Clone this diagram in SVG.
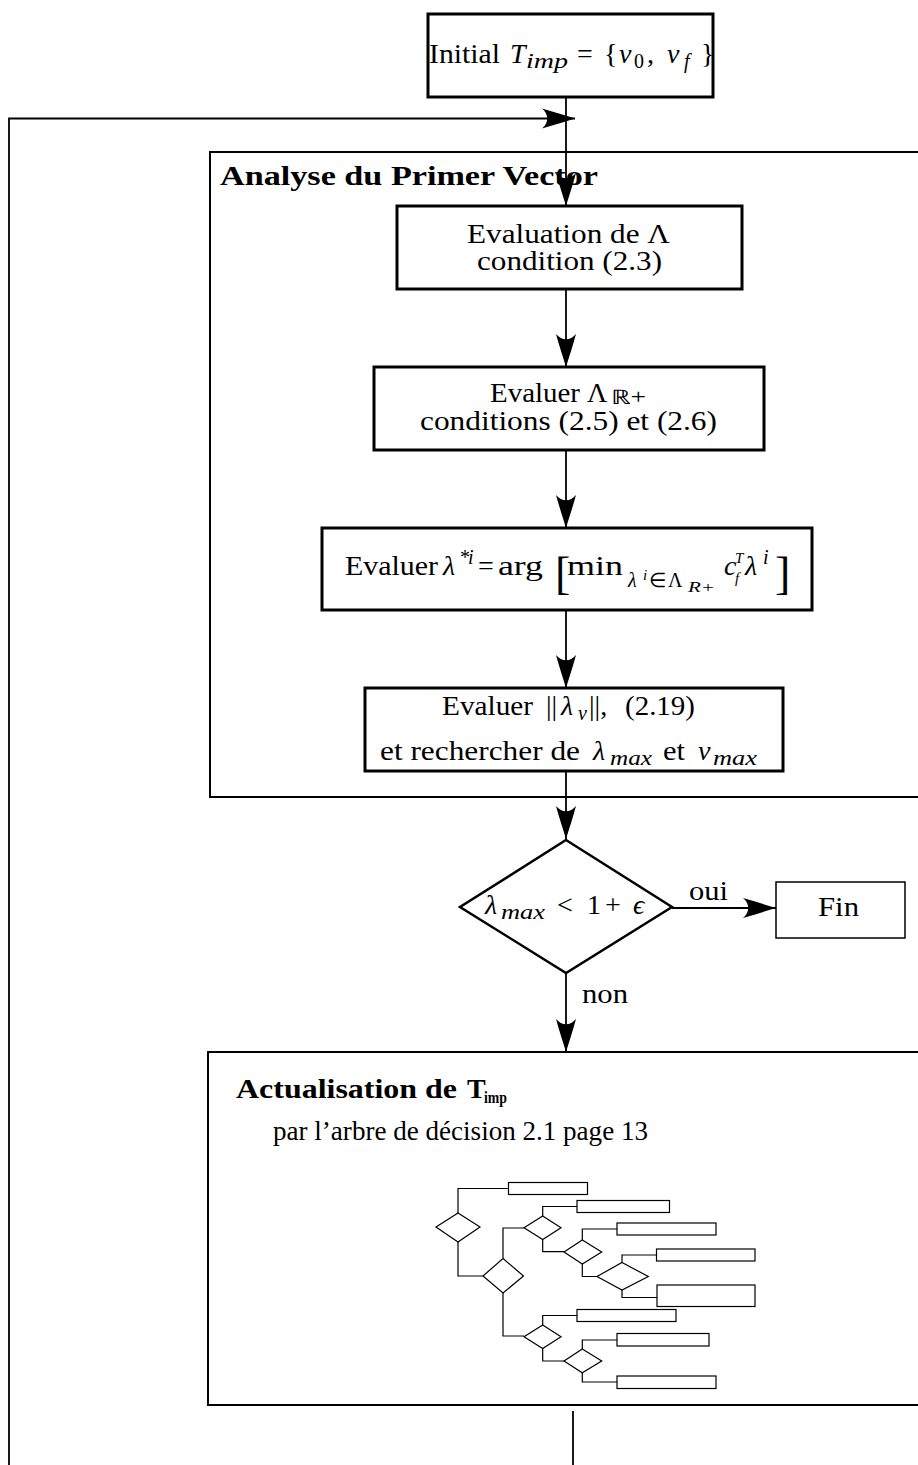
<svg xmlns="http://www.w3.org/2000/svg" width="918" height="1465" viewBox="0 0 918 1465">
<style>
.t{font-family:"Liberation Serif","Times New Roman",serif;font-size:28px;fill:#000}
.i{font-style:italic}
.s{font-size:20px}
.ss{font-size:15px}
.b{font-weight:bold}
.box{fill:#fff;stroke:#000;stroke-width:3}
.cont{fill:none;stroke:#000;stroke-width:2}
.con{fill:none;stroke:#000;stroke-width:1.8}
.mini{fill:#fff;stroke:#000;stroke-width:1.2}
.mline{fill:none;stroke:#000;stroke-width:1.2}
</style>
<defs>
<marker id="arr" markerUnits="userSpaceOnUse" viewBox="-34 -11 35 22" refX="0" refY="0" markerWidth="35" markerHeight="22" orient="auto" overflow="visible">
<path d="M0,0 C-10,-3 -22,-7 -33,-10 C-26,-4 -26,4 -33,10 C-22,7 -10,3 0,0 Z" fill="#000"/>
</marker>
</defs>

<g id="containers">
<rect class="cont" x="210" y="152" width="760" height="645"/>
<text class="t b" x="220" y="185" textLength="378" lengthAdjust="spacingAndGlyphs">Analyse du Primer Vector</text>
<rect class="cont" x="208" y="1052" width="760" height="353"/>
</g>

<g id="connectors">
<path class="con" d="M566,97 L566,206" marker-end="url(#arr)"/>
<path class="con" d="M9,1465 L9,118.5 L575,118.5" marker-end="url(#arr)"/>
<path class="con" d="M566,289 L566,367" marker-end="url(#arr)"/>
<path class="con" d="M566,450 L566,528" marker-end="url(#arr)"/>
<path class="con" d="M566,610 L566,688" marker-end="url(#arr)"/>
<path class="con" d="M566,771 L566,839" marker-end="url(#arr)"/>
<path class="con" d="M566,973 L566,1052" marker-end="url(#arr)"/>
<path class="con" d="M672,908 L776,908" marker-end="url(#arr)"/>
<path class="con" d="M573,1411 L573,1465"/>
<text class="t" x="689" y="900" textLength="39" lengthAdjust="spacingAndGlyphs">oui</text>
<text class="t" x="582" y="1003" textLength="46" lengthAdjust="spacingAndGlyphs">non</text>
</g>

<g id="init">
<rect class="box" x="428" y="14" width="285" height="83"/>
<text class="t"><tspan x="429" y="63" textLength="71" lengthAdjust="spacingAndGlyphs">Initial</tspan><tspan x="510" y="63" class="i">T</tspan><tspan x="526" y="68" class="i s" textLength="42" lengthAdjust="spacingAndGlyphs">imp</tspan><tspan x="577" y="63">=</tspan><tspan x="604" y="63">{</tspan><tspan x="619" y="63" class="i">ν</tspan><tspan x="634" y="68" class="s">0</tspan><tspan x="647" y="63">,</tspan><tspan x="667" y="63" class="i">ν</tspan><tspan x="684" y="68" class="i s">f</tspan><tspan x="701" y="63">}</tspan></text>
</g>

<g id="evaluation">
<rect class="box" x="397" y="206" width="345" height="83"/>
<text class="t" x="467" y="243" textLength="203" lengthAdjust="spacingAndGlyphs">Evaluation de Λ</text>
<text class="t" x="477" y="270" textLength="185" lengthAdjust="spacingAndGlyphs">condition (2.3)</text>
</g>

<g id="evaluer-lambda-r">
<rect class="box" x="374" y="367" width="390" height="83"/>
<text class="t"><tspan x="490" y="402" textLength="90" lengthAdjust="spacingAndGlyphs">Evaluer</tspan><tspan x="587" y="402">Λ</tspan><tspan x="611" y="404" class="s" textLength="35" lengthAdjust="spacingAndGlyphs">ℝ+</tspan></text>
<text class="t" x="420" y="430" textLength="297" lengthAdjust="spacingAndGlyphs">conditions (2.5) et (2.6)</text>
</g>

<g id="evaluer-argmin">
<rect class="box" x="322" y="528" width="490" height="82"/>
<text class="t"><tspan x="345" y="575" textLength="93" lengthAdjust="spacingAndGlyphs">Evaluer</tspan><tspan x="443" y="575" class="i">λ</tspan><tspan x="460" y="564" class="s">*</tspan><tspan x="468" y="564" class="i s">i</tspan><tspan x="478" y="575">=</tspan><tspan x="498" y="575" textLength="45" lengthAdjust="spacingAndGlyphs">arg</tspan><tspan x="567" y="575" textLength="56" lengthAdjust="spacingAndGlyphs">min</tspan><tspan x="628" y="587" class="i s">λ</tspan><tspan x="643" y="580" class="i ss">i</tspan><tspan x="649" y="587" class="s">∈</tspan><tspan x="668" y="587" class="s">Λ</tspan><tspan x="688" y="592" class="i ss" textLength="27" lengthAdjust="spacingAndGlyphs">R+</tspan><tspan x="724" y="575" class="i">c</tspan><tspan x="735" y="563" class="i ss">T</tspan><tspan x="735" y="583" class="i ss">f</tspan><tspan x="745" y="575" class="i">λ</tspan><tspan x="763" y="564" class="i s">i</tspan></text>
<text class="t" x="555" y="589" style="font-size:46px">[</text>
<text class="t" x="775" y="589" style="font-size:46px">]</text>
</g>

<g id="evaluer-norm">
<rect class="box" x="365" y="688" width="418" height="83"/>
<text class="t"><tspan x="442" y="715" textLength="91" lengthAdjust="spacingAndGlyphs">Evaluer</tspan><tspan x="546" y="715">||</tspan><tspan x="561" y="715" class="i">λ</tspan><tspan x="578" y="720" class="i s">v</tspan><tspan x="589" y="715">||,</tspan><tspan x="625" y="715" textLength="70" lengthAdjust="spacingAndGlyphs">(2.19)</tspan></text>
<text class="t"><tspan x="380" y="760" textLength="200" lengthAdjust="spacingAndGlyphs">et rechercher de</tspan><tspan x="593" y="760" class="i">λ</tspan><tspan x="610" y="765" class="i s" textLength="42" lengthAdjust="spacingAndGlyphs">max</tspan><tspan x="663" y="760" textLength="22" lengthAdjust="spacingAndGlyphs">et</tspan><tspan x="698" y="760" class="i">ν</tspan><tspan x="713" y="765" class="i s" textLength="44" lengthAdjust="spacingAndGlyphs">max</tspan></text>
</g>

<g id="decision">
<path d="M566,840 L672,907 L566,973 L460,907 Z" fill="#fff" stroke="#000" stroke-width="2.5"/>
<text class="t"><tspan x="485" y="914" class="i">λ</tspan><tspan x="501" y="919" class="i s" textLength="44" lengthAdjust="spacingAndGlyphs">max</tspan><tspan x="557" y="914">&lt;</tspan><tspan x="587" y="914">1</tspan><tspan x="605" y="914">+</tspan><tspan x="633" y="914" class="i">ϵ</tspan></text>
</g>

<g id="fin">
<rect x="776" y="882" width="129" height="56" fill="#fff" stroke="#000" stroke-width="1.5"/>
<text class="t" x="818" y="916" textLength="41" lengthAdjust="spacingAndGlyphs">Fin</text>
</g>

<g id="actualisation">
<text class="t b"><tspan x="236" y="1098" textLength="221" lengthAdjust="spacingAndGlyphs">Actualisation de</tspan><tspan x="467" y="1098">T</tspan><tspan x="484" y="1103" style="font-size:17px" textLength="23" lengthAdjust="spacingAndGlyphs">imp</tspan></text>
<text class="t" x="273" y="1140" textLength="375" lengthAdjust="spacingAndGlyphs">par l’arbre de décision 2.1 page 13</text>
</g>

<g id="mini-tree">
<path class="mline" d="M458,1213 V1188.5 H508 M458,1242 V1276 H483 M503,1258 V1228 H524 M503,1293 V1336 H524 M542.7,1216 V1206.5 H577 M542.7,1239.5 V1251.7 H564 M582.3,1240 V1229 H617 M582.3,1264 V1276.5 H597 M622,1262.5 V1255 H656 M622,1290 V1297.5 H657 M542.7,1325 V1315.5 H577 M542.7,1348.5 V1361 H564 M582.3,1349 V1340 H617 M582.3,1372.7 V1382 H617"/>
<rect class="mini" x="508.5" y="1182.5" width="79" height="12"/>
<rect class="mini" x="577" y="1200.5" width="92.5" height="12"/>
<rect class="mini" x="617" y="1223" width="99" height="12"/>
<rect class="mini" x="656.5" y="1249" width="98.5" height="12"/>
<rect class="mini" x="657" y="1285" width="98" height="21.5"/>
<rect class="mini" x="577" y="1309.5" width="99" height="12"/>
<rect class="mini" x="617" y="1333.5" width="92" height="12.5"/>
<rect class="mini" x="617" y="1376" width="99" height="12.5"/>
<path class="mini" d="M458,1213 L480,1227 L458,1242 L436,1227 Z"/>
<path class="mini" d="M503,1258.5 L523.5,1276 L503,1293 L483,1276 Z"/>
<path class="mini" d="M542.7,1216 L561,1227.7 L542.7,1239.5 L524,1227.7 Z"/>
<path class="mini" d="M582.3,1240 L601.7,1252 L582.3,1264 L564,1252 Z"/>
<path class="mini" d="M622,1262.5 L648.3,1276.5 L622,1290 L597,1276.5 Z"/>
<path class="mini" d="M542.7,1325 L561,1336.7 L542.7,1348.5 L524,1336.7 Z"/>
<path class="mini" d="M582.3,1349 L601.7,1361 L582.3,1372.7 L564,1361 Z"/>
</g>
</svg>
